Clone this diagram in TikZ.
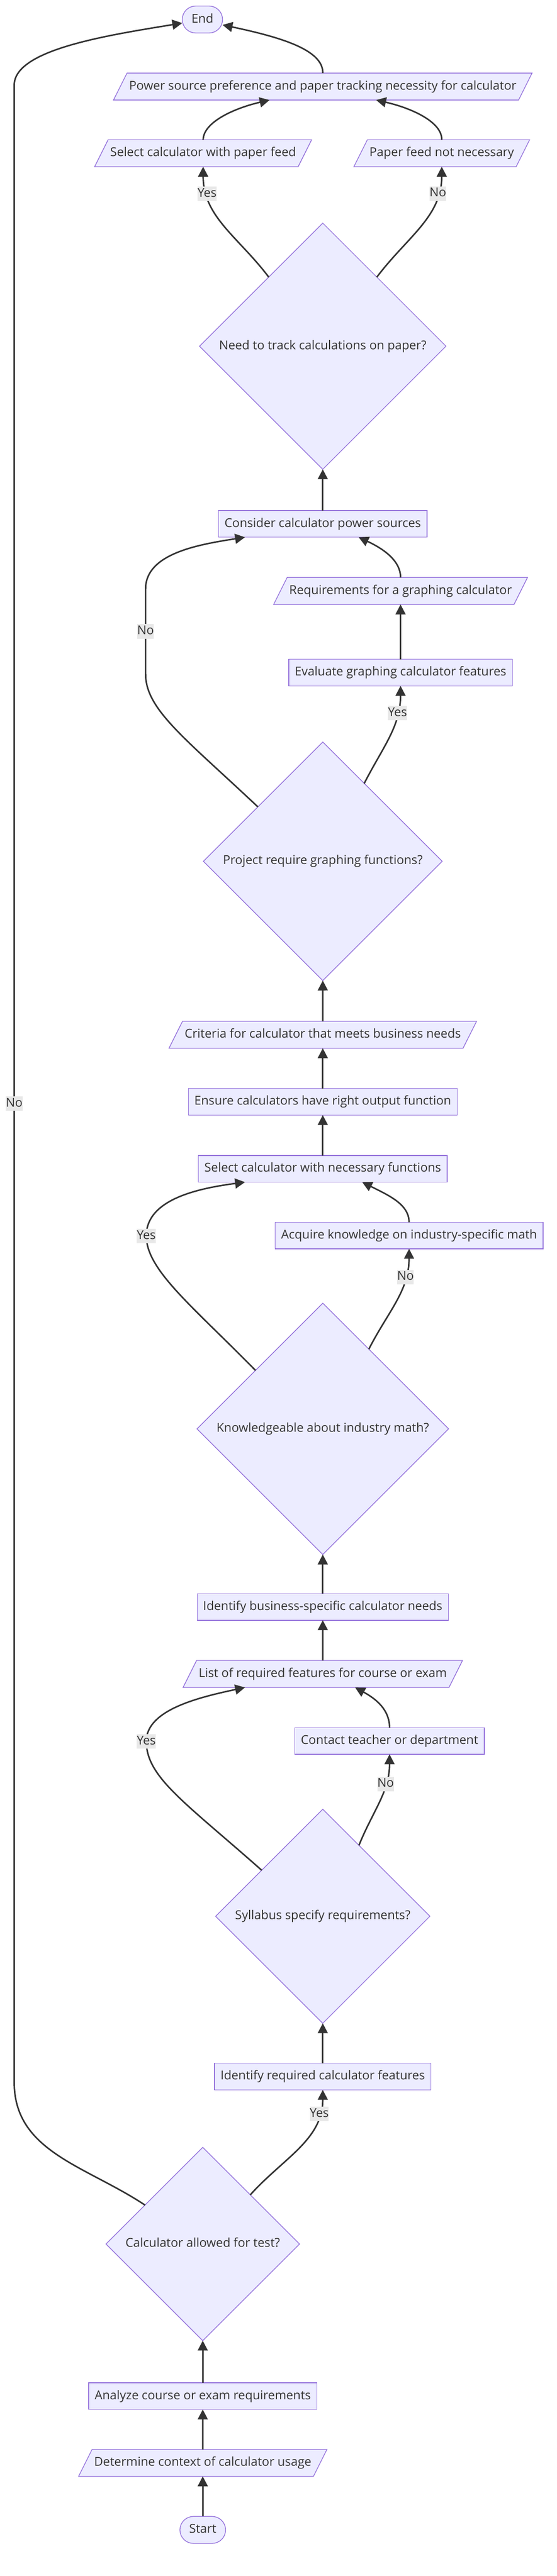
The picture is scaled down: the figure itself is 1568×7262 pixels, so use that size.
\documentclass[tikz,border=0pt]{standalone}
\usepackage{fontspec}
\setmainfont{Open Sans}
\usepackage{tikz}
\usetikzlibrary{positioning}
\usetikzlibrary{shapes.geometric}
\usetikzlibrary{arrows.meta}
\definecolor{nodefill}{HTML}{ECECFF}
\definecolor{nodeline}{HTML}{9370DB}
\definecolor{ink}{HTML}{333333}
\definecolor{lblfill}{HTML}{E8E8E8}
\newcommand{\chartfont}{\fontsize{34.5pt}{40pt}\selectfont}

\begin{document}
\begin{tikzpicture}[x=1pt,y=-1pt,on grid,>={Triangle[length=28pt,width=28pt]},
		base/.style={draw=nodeline,fill=nodefill,line width=2pt,text=ink,font=\chartfont,
			text height=26pt,text depth=8pt,outer sep=0pt},
		term/.style={base,rectangle,rounded corners=38pt,inner xsep=26pt,inner ysep=21pt},
		proc/.style={base,rectangle,inner xsep=17pt,inner ysep=20.5pt},
		io/.style={base,trapezium,trapezium left angle=63.43,trapezium right angle=116.57,
			inner xsep=6pt,inner ysep=21pt},
		choice/.style={base,diamond,aspect=1,inner sep=19pt},
		lbl/.style={fill=lblfill,text=ink,font=\chartfont,text height=26pt,text depth=8pt,
			inner xsep=0pt,inner ysep=3.5pt},
		link/.style={->,color=ink,line width=4.2pt}]
		\useasboundingbox (0,0) rectangle (1568,7262);

		\node[term]   (start)     at (571,7132)                           {Start};
		\node[io]     (context)   [above=189pt of start]                  {Determine context of calculator usage};
		\node[proc]   (analyze)   [above=188pt of context]                {Analyze course or exam requirements};
		\node[choice] (allowq)    [above=429pt of analyze]                {Calculator allowed for test?};
		\node[proc]   (reqfeat)   [above right=472pt and 338pt of allowq] {Identify required calculator features};
		\node[choice] (syllq)     [above=452pt of reqfeat]                {Syllabus specify requirements?};
		\node[proc]   (contact)   [above right=494pt and 188pt of syllq]  {Contact teacher or department};
		\node[io]     (featlist)  [above=683pt of syllq]                  {List of required features for course or exam};
		\node[proc]   (bizneeds)  [above=189pt of featlist]               {Identify business-specific calculator needs};
		\node[choice] (mathq)     [above=502pt of bizneeds]               {Knowledgeable about industry math?};
		\node[proc]   (acquire)   [above right=545pt and 243pt of mathq]  {Acquire knowledge on industry-specific math};
		\node[proc]   (selfunc)   [above=733pt of mathq]                  {Select calculator with necessary functions};
		\node[proc]   (ensure)    [above=189pt of selfunc]                {Ensure calculators have right output function};
		\node[io]     (criteria)  [above=189pt of ensure]                 {Criteria for calculator that meets business needs};
		\node[choice] (graphq)    [above=489pt of criteria]               {Project require graphing functions?};
		\node[proc]   (evalgraph) [above right=532pt and 219pt of graphq] {Evaluate graphing calculator features};
		\node[io]     (graphreq)  [above=230pt of evalgraph]              {Requirements for a graphing calculator};
		\node[proc]   (power)     [above=951pt of graphq]                 {Consider calculator power sources};
		\node[choice] (track)     [above=501pt of power]                  {Need to track calculations on paper?};
		\node[io]     (selfeed)   [above left=544pt and 337pt of track]   {Select calculator with paper feed};
		\node[io]     (nofeed)    [above right=544pt and 335pt of track]  {Paper feed not necessary};
		\node[io]     (ps)        [above=732pt of track]                  {Power source preference and paper tracking necessity for calculator};
		\node[term]   (stop)      [above left=189pt and 339pt of ps]      {End};

		\path[link]
		(start)     edge (context)
		(context)   edge (analyze)
		(analyze)   edge (allowq)
		(reqfeat)   edge (syllq)
		(featlist)  edge (bizneeds)
		(bizneeds)  edge (mathq)
		(selfunc)   edge (ensure)
		(ensure)    edge (criteria)
		(criteria)  edge (graphq)
		(evalgraph) edge (graphreq)
		(power)     edge (track);

		\path[link]
		(allowq.46) edge[out=48,in=-90]  node[lbl,pos=0.82] {Yes} (reqfeat.south)
		(syllq.63)  edge[out=68,in=-90]  node[lbl,pos=0.7]  {No}  (contact.south)
		(mathq.60)  edge[out=63,in=-90]  node[lbl,pos=0.75] {No}  (acquire.south)
		(graphq.62) edge[out=63,in=-90]  node[lbl,pos=0.75] {Yes} (evalgraph.south)
		(track.128) edge[out=127,in=-90] node[lbl,pos=0.8]  {Yes} (selfeed.south)
		(track.52)  edge[out=53,in=-90]  node[lbl,pos=0.8]  {No}  (nofeed.south);

		\draw[link] (selfeed.north) .. controls (573,344) and (660,305) .. ([xshift=-150pt]ps.south);
		\draw[link] (nofeed.north) .. controls (1245,344) and (1160,305) .. ([xshift=150pt]ps.south);
		\draw[link] (ps.north) .. controls (910,140) and (790,105) .. (stop.345);
		\draw[link] (graphreq.north) .. controls (1128,1578) and (1075,1545) .. ([xshift=101pt]power.south);
		\draw[link] (acquire.north) .. controls (1152,3395) and (1095,3370) .. ([xshift=111pt]selfunc.south);
		\draw[link] (contact.north) .. controls (1097,4820) and (1060,4790) .. ([xshift=91pt]featlist.south);

		\draw[link] (graphq.140) .. controls (520,2080) and (410,2000) .. (410,1900)
		-- node[lbl] {No} (410,1660) .. controls (410,1560) and (560,1535) .. ([xshift=-219pt]power.south);
		\draw[link] (mathq.139) .. controls (540,3680) and (412,3580) .. (412,3484) node[lbl] {Yes}
		.. controls (412,3380) and (560,3350) .. ([xshift=-219pt]selfunc.south);
		\draw[link] (syllq.143) .. controls (520,5080) and (412,5010) .. (412,4909) node[lbl] {Yes}
		.. controls (412,4820) and (560,4785) .. ([xshift=-219pt]featlist.south);
		\draw[link] (allowq.146) .. controls (241,6105) and (40,6066) .. (40,5870)
		-- node[lbl,pos=0.49] {No} (40,240) .. controls (40,140) and (300,100) .. (stop.190);
\end{tikzpicture}
\end{document}
